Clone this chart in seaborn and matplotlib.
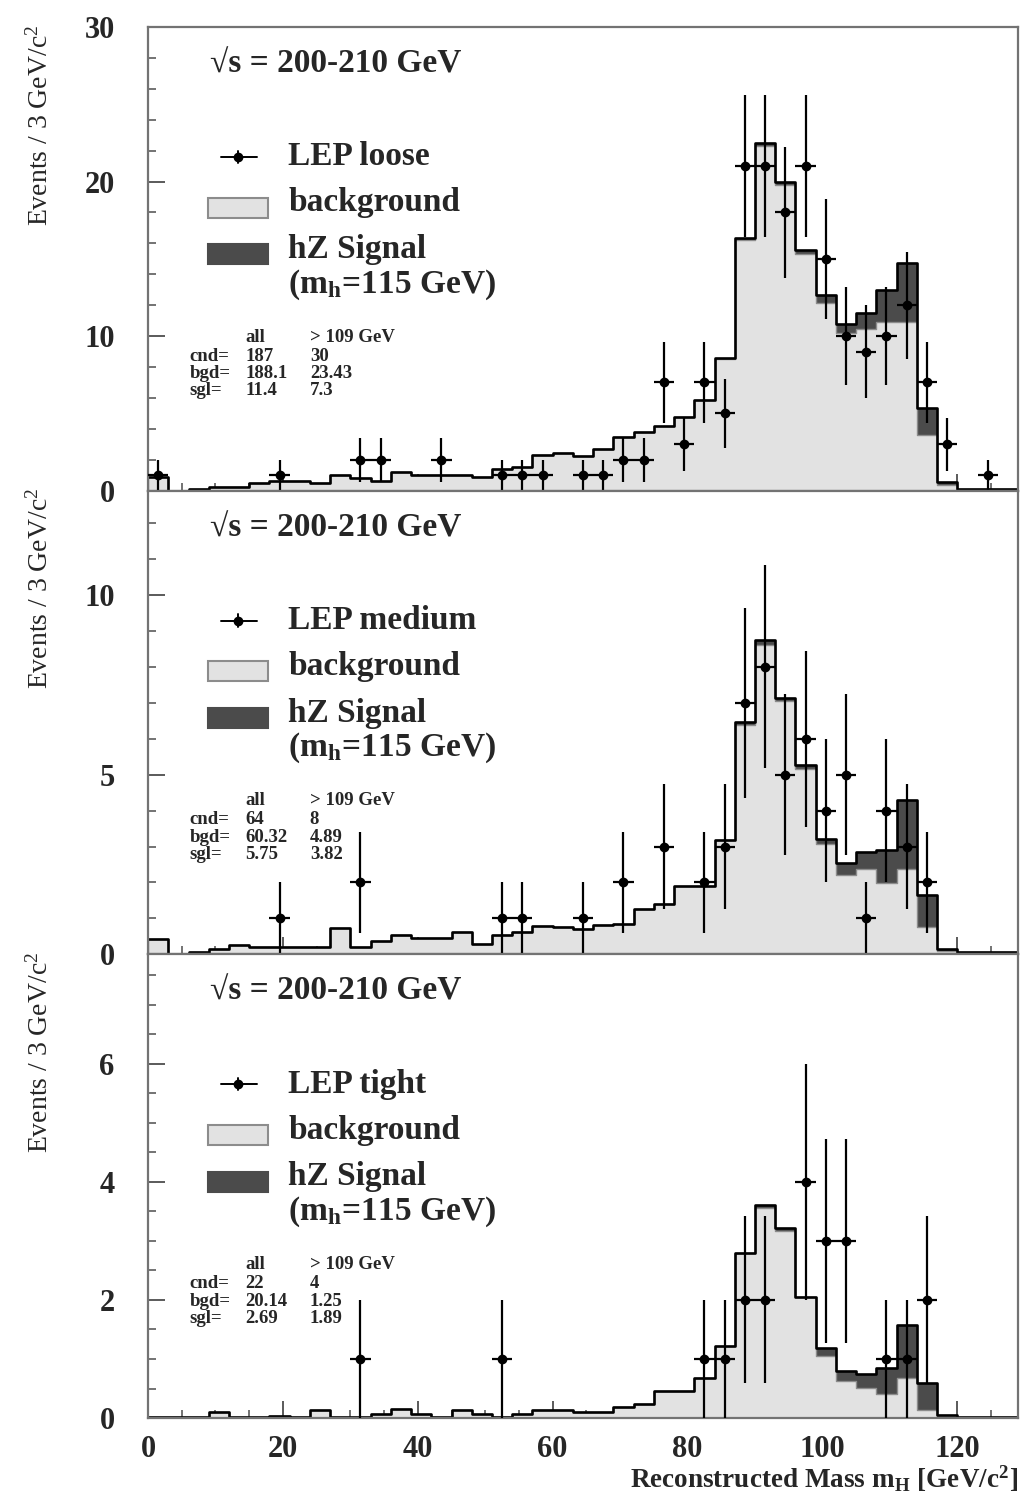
import numpy as np
import pandas as pd
import matplotlib
matplotlib.use("Agg")
import matplotlib.pyplot as plt
from matplotlib.patches import Rectangle
import seaborn as sns

# 3 GeV bins from 0 to 129 GeV
bin_edges = list(range(0, 130, 3))
bin_centers = [e + 1.5 for e in bin_edges[:-1]]

# --- LEP loose ---
loose_bkg = [0.9, 0.0, 0.09, 0.26, 0.26, 0.48, 0.6, 0.6, 0.48, 1.04, 0.82, 0.65, 1.23, 1.04,
             1.04, 1.04, 0.87, 1.4, 1.56, 2.3, 2.42, 2.27, 2.7, 3.46, 3.79, 4.16, 4.76, 5.84,
             8.51, 16.19, 22.3, 19.8, 15.3, 12.11, 10.18, 10.47, 10.9, 10.92, 3.57, 0.34,
             0.11, 0.1, 0.1]
loose_sig = [0, 0, 0, 0, 0, 0, 0, 0, 0, 0, 0, 0, 0, 0, 0, 0, 0, 0, 0, 0, 0, 0, 0, 0, 0, 0, 0, 0,
             0.1, 0.15, 0.2, 0.2, 0.3, 0.55, 0.6, 1.0, 2.1, 3.8, 1.8, 0.2, 0, 0, 0]
loose_x = [1.5, 19.5, 31.5, 34.5, 43.5, 52.5, 55.5, 58.5, 64.5, 67.5, 70.5, 73.5, 76.5, 79.5,
           82.5, 85.5, 88.5, 91.5, 94.5, 97.5, 100.5, 103.5, 106.5, 109.5, 112.5, 115.5,
           118.5, 124.5]
loose_n = [1, 1, 2, 2, 2, 1, 1, 1, 1, 1, 2, 2, 7, 3, 7, 5, 21, 21, 18, 21, 15, 10, 9, 10, 12,
           7, 3, 1]

# --- LEP medium ---
medium_bkg = [0.42, 0.0, 0.07, 0.14, 0.25, 0.21, 0.21, 0.21, 0.21, 0.72, 0.21, 0.37, 0.54,
              0.45, 0.45, 0.62, 0.28, 0.53, 0.62, 0.79, 0.77, 0.70, 0.81, 0.84, 1.26, 1.40,
              1.91, 1.91, 3.17, 6.37, 8.6, 7.04, 5.16, 3.07, 2.21, 2.37, 1.98, 2.37, 0.77,
              0.09, 0.06, 0.06, 0.06]
medium_sig = [0, 0, 0, 0, 0, 0, 0, 0, 0, 0, 0, 0, 0, 0, 0, 0, 0, 0, 0, 0, 0, 0, 0, 0, 0, 0, 0, 0,
              0.0, 0.1, 0.15, 0.1, 0.1, 0.14, 0.33, 0.49, 0.93, 1.93, 0.88, 0.05, 0, 0, 0]
medium_x = [19.5, 31.5, 52.5, 55.5, 64.5, 70.5, 76.5, 82.5, 85.5, 88.5, 91.5, 94.5, 97.5,
            100.5, 103.5, 106.5, 109.5, 112.5, 115.5]
medium_n = [1, 2, 1, 1, 1, 2, 3, 2, 3, 7, 8, 5, 6, 4, 5, 1, 4, 3, 2]

# --- LEP tight ---
tight_bkg = [0.02, 0.02, 0.02, 0.11, 0.02, 0.02, 0.03, 0.02, 0.14, 0.02, 0.01, 0.07, 0.15,
             0.07, 0.02, 0.14, 0.07, 0.02, 0.07, 0.14, 0.14, 0.10, 0.11, 0.19, 0.24, 0.45,
             0.45, 0.68, 1.22, 2.80, 3.56, 3.16, 2.05, 1.05, 0.63, 0.51, 0.40, 0.68, 0.14,
             0.03, 0.02, 0.02, 0.02]
tight_sig = [0, 0, 0, 0, 0, 0, 0, 0, 0, 0, 0, 0, 0, 0, 0, 0, 0, 0, 0, 0, 0, 0, 0, 0, 0, 0, 0, 0,
             0.0, 0.0, 0.05, 0.05, 0.0, 0.13, 0.17, 0.24, 0.45, 0.89, 0.46, 0.03, 0, 0, 0]
tight_x = [31.5, 52.5, 82.5, 85.5, 88.5, 91.5, 97.5, 100.5, 103.5, 109.5, 112.5, 115.5]
tight_n = [1, 1, 1, 1, 2, 2, 4, 3, 3, 1, 1, 2]

panel_names = ["LEP loose", "LEP medium", "LEP tight"]
stats_all = [("187", "188.1", "11.4"), ("64", "60.32", "5.75"), ("22", "20.14", "2.69")]
stats_cut = [("30", "23.43", "7.3"), ("8", "4.89", "3.82"), ("4", "1.25", "1.89")]
y_max = [30, 12.9, 7.85]
y_major = [[0, 10, 20, 30], [0, 5, 10], [0, 2, 4, 6]]
y_minor_step = [2, 1, 0.5]
x_major = [0, 20, 40, 60, 80, 100, 120]

BKG_COLOR = "#e2e2e2"
SIG_COLOR = "#4b4b4b"

sns.set_style("ticks")
plt.rcParams["font.family"] = ["Liberation Serif", "DejaVu Serif"]
plt.rcParams["mathtext.fontset"] = "stix"

fig, axes = plt.subplots(3, 1, sharex=True, figsize=(10.26, 14.99), dpi=100,
                         gridspec_kw=dict(hspace=0))
fig.subplots_adjust(left=0.1443, right=0.9922, top=0.982, bottom=0.054)

panels = [(loose_bkg, loose_sig, loose_x, loose_n),
          (medium_bkg, medium_sig, medium_x, medium_n),
          (tight_bkg, tight_sig, tight_x, tight_n)]

for i, (ax, (bkg, sig, dx, dn)) in enumerate(zip(axes, panels)):
    df = pd.DataFrame({"mass": bin_centers, "bkg": bkg, "total": np.add(bkg, sig)})
    # signal stacked on background: draw total in dark grey, background on top of it
    sns.histplot(data=df, x="mass", weights="total", bins=bin_edges, element="step",
                 fill=True, color=SIG_COLOR, alpha=1, linewidth=0, ax=ax)
    sns.histplot(data=df, x="mass", weights="bkg", bins=bin_edges, element="step",
                 fill=True, color=BKG_COLOR, alpha=1, edgecolor="0.55", linewidth=1.0, ax=ax)
    sns.histplot(data=df, x="mass", weights="total", bins=bin_edges, element="step",
                 fill=False, color="black", linewidth=1.9, ax=ax)

    ax.errorbar(dx, dn, yerr=np.sqrt(dn), xerr=1.5, fmt="o", color="black", ms=6,
                elinewidth=1.6, capsize=0, zorder=5)

    ax.set_xlim(0, 129)
    ax.set_ylim(0, y_max[i])
    ax.set_ylabel("")
    ax.set_xlabel("")
    ax.set_yticks(y_major[i], labels=[str(v) for v in y_major[i]], fontsize=22,
                  fontweight="bold")
    ax.set_yticks(np.arange(0, y_max[i], y_minor_step[i]), minor=True)
    ax.set_xticks(np.arange(0, 129, 5), minor=True)
    ax.tick_params(axis="both", which="both", direction="in", color="0.3",
                   top=False, right=False)
    ax.tick_params(axis="both", which="major", length=12, width=1.3)
    ax.tick_params(axis="both", which="minor", length=6, width=1.1)
    ax.tick_params(axis="y", which="major", pad=24)
    ax.tick_params(axis="x", which="major", pad=12)
    for sp in ax.spines.values():
        sp.set_visible(True)
        sp.set_color("0.45")
        sp.set_linewidth(1.6)

    # header
    ax.text(0.071, 0.92, "\u221as = 200-210 GeV", transform=ax.transAxes,
            fontsize=24, fontweight="bold", va="center", ha="left")

    # legend
    ax.plot([0.084, 0.125], [0.72, 0.72], color="black", lw=1.4, transform=ax.transAxes)
    ax.plot([0.1034, 0.1034], [0.707, 0.733], color="black", lw=1.4, transform=ax.transAxes)
    ax.plot([0.1034], [0.72], "o", color="black", ms=6, transform=ax.transAxes)
    ax.add_patch(Rectangle((0.069, 0.589), 0.069, 0.043, transform=ax.transAxes,
                           facecolor=BKG_COLOR, edgecolor="0.55", lw=1.5))
    ax.add_patch(Rectangle((0.069, 0.488), 0.069, 0.043, transform=ax.transAxes,
                           facecolor=SIG_COLOR, edgecolor=SIG_COLOR, lw=1.5))
    leg_kw = dict(transform=ax.transAxes, fontsize=24, fontweight="bold", va="center",
                  ha="left")
    ax.text(0.161, 0.72, panel_names[i], **leg_kw)
    ax.text(0.161, 0.621, "background", **leg_kw)
    ax.text(0.161, 0.520, "hZ Signal", **leg_kw)
    ax.text(0.161, 0.445, r"(m$_\mathregular{h}$=115 GeV)", **leg_kw)

    # event counts
    st_kw = dict(transform=ax.transAxes, fontsize=13.5, fontweight="bold", va="center",
                 ha="left")
    ax.text(0.1115, 0.331, "all", **st_kw)
    ax.text(0.186, 0.331, "> 109 GeV", **st_kw)
    for row, (lab, y) in enumerate(zip(["cnd=", "bgd=", "sgl="], [0.290, 0.252, 0.215])):
        ax.text(0.048, y, lab, **st_kw)
        ax.text(0.1115, y, stats_all[i][row], **st_kw)
        ax.text(0.186, y, stats_cut[i][row], **st_kw)

    pos = ax.get_position()
    fig.text(0.039, pos.y1 + 0.002, r"Events / 3 GeV/c$^\mathregular{2}$", rotation=90,
             fontsize=20, va="top", ha="center")

axes[-1].set_xticks(x_major, labels=[str(v) for v in x_major], fontsize=22,
                    fontweight="bold")
fig.text(0.992, 0.014, r"Reconstructed Mass m$_\mathregular{H}$ [GeV/c$^\mathregular{2}$]",
         fontsize=19.5, fontweight="bold", ha="right", va="center")

fig.savefig("out.png", dpi=100)
